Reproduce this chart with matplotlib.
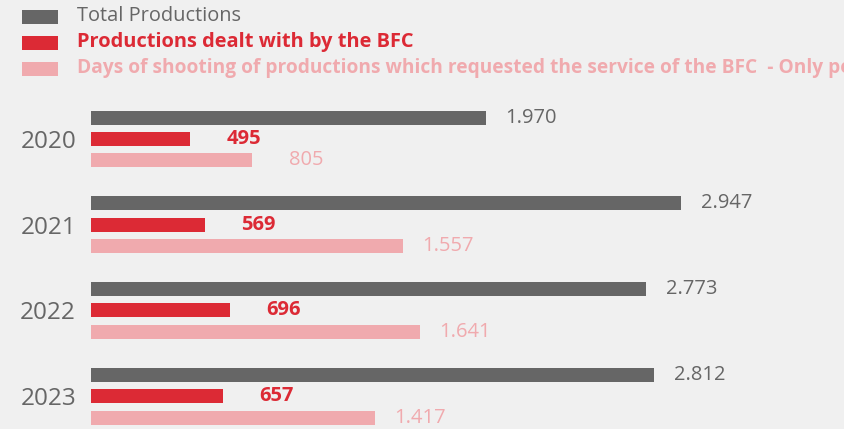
import matplotlib.pyplot as plt
from matplotlib.patches import Rectangle

plt.rcParams["font.family"] = ["Open Sans", "DejaVu Sans"]

years = ["2020", "2021", "2022", "2023"]
total_productions = [1970, 2947, 2773, 2812]
dealt_by_bfc = [495, 569, 696, 657]
shooting_days = [805, 1557, 1641, 1417]

legend_labels = [
    "Total Productions",
    "Productions dealt with by the BFC",
    "Days of shooting of productions which requested the service of the BFC  - Only permits",
]

BG = "#f0f0f0"
GREY = "#666666"
RED = "#dc2a35"
PINK = "#f0aaae"

W, H = 844, 429
fig = plt.figure(figsize=(W / 100, H / 100), dpi=100, facecolor=BG)

# bar area starts at x=91px and runs off the right edge
ax = fig.add_axes([91 / W, 0, 1 - 91 / W, 1])
ax.set_facecolor(BG)

pitch = 85.7  # px between groups
ax.set_ylim((H - 139) / pitch, -139 / pitch)
px_per_unit = 0.2003
ax.set_xlim(0, (W - 91) / px_per_unit)

series = [
    (total_productions, GREY, "normal", -0.25),
    (dealt_by_bfc, RED, "bold", 0.0),
    (shooting_days, PINK, "normal", 0.25),
]
bar_h = 14 / pitch

for values, color, weight, off in series:
    ys = [i + off for i in range(len(years))]
    ax.barh(ys, values, height=bar_h, color=color, linewidth=0)
    for v, y in zip(values, ys):
        ax.annotate(f"{v:,}".replace(",", "."), xy=(v, y), xytext=(51, 0),
                    textcoords="offset points", ha="right", va="center",
                    fontsize=14.5, color=color, fontweight=weight)

ax.set_yticks(range(len(years)))
ax.set_yticklabels(years, fontsize=17.5, color=GREY)
ax.tick_params(axis="y", length=0, pad=10.8)
ax.set_xticks([])
for s in ax.spines.values():
    s.set_visible(False)

# legend at the top; the long third entry runs past the right edge
leg_colors = [GREY, RED, PINK]
leg_weights = ["normal", "bold", "bold"]
leg_sizes = [14.4, 14.4, 13.75]
for k, (lab, c, w, fs) in enumerate(zip(legend_labels, leg_colors, leg_weights, leg_sizes)):
    yc = 17 + 26 * k
    fig.patches.append(Rectangle((22 / W, 1 - (yc + 7) / H), 36 / W, 14 / H,
                                 transform=fig.transFigure, color=c, linewidth=0))
    fig.text(77 / W, 1 - (yc - 1) / H, lab, color=c, fontsize=fs, fontweight=w,
             va="center", ha="left")

fig.savefig("out.png", dpi=100, facecolor=BG)
